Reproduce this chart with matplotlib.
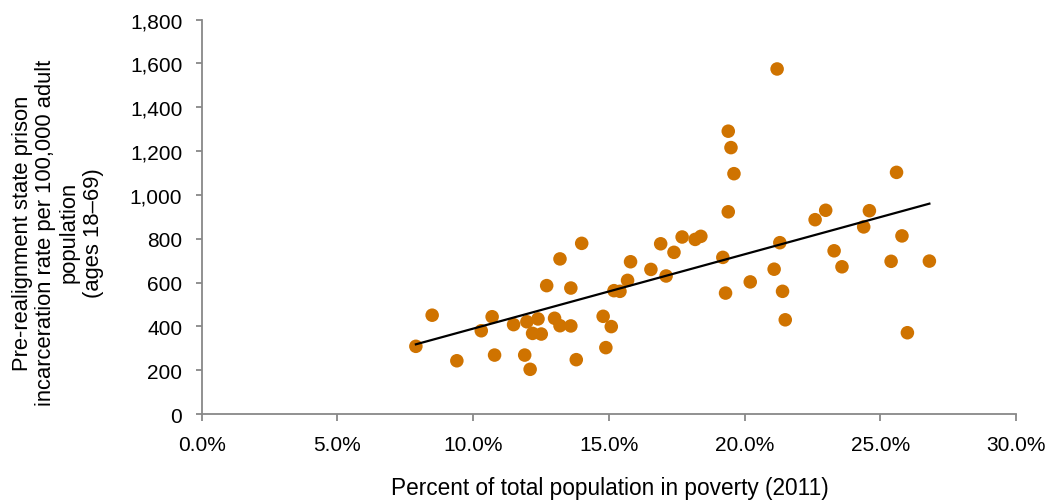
import matplotlib
matplotlib.use("Agg")
import matplotlib.pyplot as plt
import numpy as np
from matplotlib.ticker import FuncFormatter

plt.rcParams['font.family'] = ['Liberation Sans', 'DejaVu Sans']

# poverty rate (%) and incarceration rate per 100,000, one point per county
poverty = [7.89, 8.49, 9.40, 10.30, 10.70, 10.79, 11.49, 11.90, 11.98, 12.10,
           12.19, 12.39, 12.51, 12.71, 13.00, 13.20, 13.20, 13.60, 13.60, 13.80,
           14.00, 14.79, 14.89, 15.09, 15.19, 15.41, 15.69, 15.80, 16.55, 16.91,
           17.11, 17.40, 17.70, 18.18, 18.39, 19.20, 19.30, 19.40, 19.40, 19.50,
           19.61, 20.21, 21.09, 21.20, 21.30, 21.40, 21.50, 22.60, 22.99, 23.30,
           23.59, 24.39, 24.60, 25.40, 25.60, 25.80, 26.00, 26.81]
rate = [309, 451, 243, 380, 444, 269, 408, 269, 421, 204,
        368, 434, 365, 586, 437, 708, 403, 575, 402, 248,
        779, 446, 303, 399, 563, 560, 610, 695, 660, 777,
        630, 738, 808, 797, 811, 715, 552, 923, 1291, 1216,
        1097, 603, 661, 1575, 782, 560, 430, 887, 930, 745,
        672, 854, 928, 697, 1103, 813, 371, 698]

x = np.array(poverty) / 100
y = np.array(rate)

fig = plt.figure(figsize=(10.49, 5.02), dpi=100)
ax = fig.add_axes([0.1923, 0.1733, 0.7762, 0.7855])

ax.scatter(x, y, s=95, color='#CF7300', edgecolors='none', zorder=3)

# linear trend line
k, b = np.polyfit(x, y, 1)
xs = np.array([x.min(), x.max()])
ax.plot(xs, k * xs + b, color='black', lw=1.6, zorder=4)

ax.set_xlim(0, 0.30)
ax.set_ylim(0, 1800)
ax.set_xticks(np.arange(0, 0.301, 0.05))
ax.set_yticks(np.arange(0, 1801, 200))
ax.xaxis.set_major_formatter(FuncFormatter(lambda v, p: f'{v*100:.1f}%'))
ax.yaxis.set_major_formatter(FuncFormatter(lambda v, p: f'{int(v):,}'))

for s in ['top', 'right']:
    ax.spines[s].set_visible(False)
for s in ['left', 'bottom']:
    ax.spines[s].set_color('#888888')
    ax.spines[s].set_linewidth(1.3)
ax.tick_params(axis='both', colors='#888888', labelcolor='black', labelsize=15, width=1.3)
ax.tick_params(axis='y', length=4, pad=10)
ax.tick_params(axis='x', length=5, pad=10)

fig.text(0.055, 0.536, 'Pre-realignment state prison\nincarceration rate per 100,000 adult\npopulation\n(ages 18\u201369)',
         rotation=90, ha='center', va='center', fontsize=15.8, linespacing=1.17)
fig.text(0.581, 0.026, 'Percent of total population in poverty (2011)',
         ha='center', va='center', fontsize=16.3)

fig.savefig('out.png', dpi=100)
